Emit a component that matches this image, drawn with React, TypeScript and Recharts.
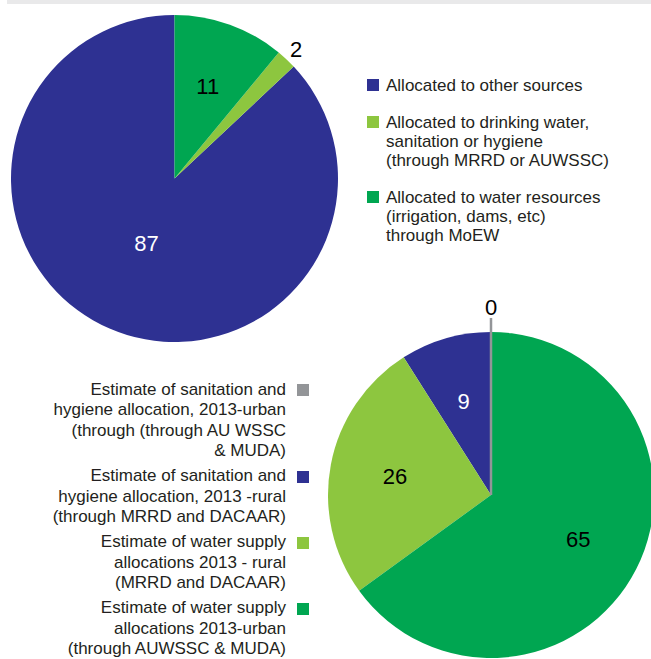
import { Cell, Pie, PieChart } from 'recharts'

const budgetNames = [
  'Allocated to other sources',
  'Allocated to drinking water,\nsanitation or hygiene\n(through MRRD or AUWSSC)',
  'Allocated to water resources\n(irrigation, dams, etc)\nthrough MoEW',
]
const budgetValues = [87, 2, 11]

const washNames = [
  'Estimate of sanitation and\nhygiene allocation, 2013-urban\n(through (through AU WSSC\n& MUDA)',
  'Estimate of sanitation and\nhygiene allocation, 2013 -rural\n(through MRRD and DACAAR)',
  'Estimate of water supply\nallocations 2013 - rural\n(MRRD and DACAAR)',
  'Estimate of water supply\nallocations 2013-urban\n(through AUWSSC & MUDA)',
]
const washValues = [0, 9, 26, 65]

const BLUE = '#2e3192'
const LIME = '#8dc63f'
const GREEN = '#00a651'
const GREY = '#939598'

const budgetColors = [BLUE, LIME, GREEN]
const washColors = [GREY, BLUE, LIME, GREEN]

const RADIAN = Math.PI / 180
const labelFont = '"Liberation Sans", Arial, sans-serif'
const legendFont = '"Liberation Sans", Arial, sans-serif'

function point(cx: number, cy: number, r: number, angle: number) {
  return { x: cx + r * Math.cos(-angle * RADIAN), y: cy + r * Math.sin(-angle * RADIAN) }
}

function makeLabel(colors: string[]) {
  return (props: any) => {
    const { cx, cy, midAngle, outerRadius, percent, value, index } = props
    const textProps = {
      textAnchor: 'middle' as const,
      dominantBaseline: 'central' as const,
      fontFamily: labelFont,
      fontSize: 22,
    }
    // zero slice: grey tick line from the centre plus its value above
    if (value === 0) {
      const end = point(cx, cy, outerRadius + 14, midAngle)
      const t = point(cx, cy, outerRadius + 25, midAngle)
      return (
        <g key={`l-${index}`}>
          <line x1={cx} y1={cy} x2={end.x} y2={end.y} stroke={colors[index]} strokeWidth={2.5} />
          <text x={t.x} y={t.y} fill="#000" {...textProps}>{value}</text>
        </g>
      )
    }
    if (percent < 0.05) {
      const t = point(cx, cy, outerRadius + 14, midAngle)
      return <text key={`l-${index}`} x={t.x} y={t.y} fill="#000" {...textProps}>{value}</text>
    }
    const t = point(cx, cy, outerRadius * (percent > 0.8 ? 0.43 : 0.6), midAngle)
    return (
      <text key={`l-${index}`} x={t.x} y={t.y} fill={colors[index] === BLUE ? '#fff' : '#000'} {...textProps}>
        {value}
      </text>
    )
  }
}

function LegendBlock({ names, colors, align, lineHeight, gap }: { names: string[]; colors: string[]; align: 'left' | 'right'; lineHeight: number; gap: number }) {
  return (
    <div style={{ fontFamily: legendFont, fontSize: 17, lineHeight: `${lineHeight}px`, color: '#231f20' }}>
      {names.map((name, i) => (
        <div
          key={name}
          style={{
            display: 'flex',
            flexDirection: align === 'left' ? 'row' : 'row-reverse',
            alignItems: 'flex-start',
            marginTop: i === 0 ? 0 : gap,
          }}
        >
          <span
            style={{
              width: 12,
              height: 12,
              flex: 'none',
              background: colors[i],
              marginTop: (lineHeight - 12) / 2,
              marginLeft: align === 'right' ? 11 : 0,
              marginRight: align === 'left' ? 7 : 0,
            }}
          />
          <span style={{ whiteSpace: 'pre-line', textAlign: align }}>{name}</span>
        </div>
      ))}
    </div>
  )
}

export default function App() {
  const budgetData = budgetNames.map((name, i) => ({ name, value: budgetValues[i] }))
  const washData = washNames.map((name, i) => ({ name, value: washValues[i] }))

  return (
    <div style={{ position: 'absolute', left: 0, top: 0, width: 651, height: 659, overflow: 'hidden', background: '#fff' }}>
      <div style={{ position: 'absolute', left: 7, top: 0, width: 644, height: 4, background: '#e9e9ea' }} />

      <div style={{ position: 'absolute', left: 0, top: 0 }}>
        <PieChart width={350} height={360} margin={{ top: 0, right: 0, bottom: 0, left: 0 }}>
          <Pie
            data={budgetData}
            dataKey="value"
            nameKey="name"
            cx={174.5}
            cy={178.5}
            outerRadius={163.5}
            startAngle={90}
            endAngle={450}
            stroke="none"
            labelLine={false}
            label={makeLabel(budgetColors)}
            isAnimationActive={false}
          >
            {budgetData.map((d, i) => (
              <Cell key={d.name} fill={budgetColors[i]} />
            ))}
          </Pie>
        </PieChart>
      </div>

      <div style={{ position: 'absolute', left: 367, top: 75.5 }}>
        <LegendBlock names={budgetNames} colors={budgetColors} align="left" lineHeight={19} gap={18} />
      </div>

      <div style={{ position: 'absolute', left: 300, top: 290 }}>
        <PieChart width={351} height={369} margin={{ top: 0, right: 0, bottom: 0, left: 0 }}>
          <Pie
            data={washData}
            dataKey="value"
            nameKey="name"
            cx={191}
            cy={205}
            outerRadius={163}
            startAngle={90}
            endAngle={450}
            stroke="none"
            labelLine={false}
            label={makeLabel(washColors)}
            isAnimationActive={false}
          >
            {washData.map((d, i) => (
              <Cell key={d.name} fill={washColors[i]} />
            ))}
          </Pie>
        </PieChart>
      </div>

      <div style={{ position: 'absolute', right: 651 - 309, top: 379.75 }}>
        <LegendBlock names={washNames} colors={washColors} align="right" lineHeight={20.5} gap={4.5} />
      </div>
    </div>
  )
}
